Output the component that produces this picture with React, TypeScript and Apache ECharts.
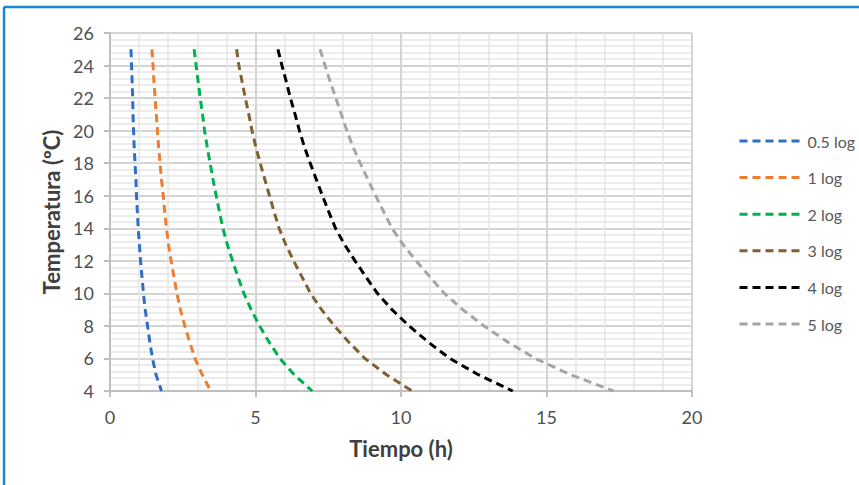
import React, { useEffect, useRef } from "react";
import * as echarts from "echarts";

// Temperature (ºC) at which each series is sampled, from 25 down to 4
const temperatures = [25, 24, 23, 22, 21, 20, 19, 18, 17, 16, 15, 14, 13, 12, 11, 10, 9, 8, 7, 6, 5, 4];

// Time (h) for each log reduction
const log05 = [0.72, 0.74, 0.76, 0.78, 0.79, 0.81, 0.83, 0.86, 0.89, 0.91, 0.94, 0.97, 1.01, 1.05, 1.1, 1.15, 1.21, 1.29, 1.37, 1.46, 1.58, 1.77];
const log1 = [1.44, 1.48, 1.51, 1.55, 1.59, 1.63, 1.67, 1.72, 1.77, 1.83, 1.88, 1.94, 2.01, 2.1, 2.2, 2.3, 2.42, 2.57, 2.74, 2.92, 3.17, 3.46];
const log2 = [2.89, 2.96, 3.03, 3.1, 3.18, 3.25, 3.34, 3.44, 3.54, 3.65, 3.76, 3.88, 4.03, 4.21, 4.4, 4.6, 4.85, 5.14, 5.47, 5.84, 6.33, 6.95];
const log3 = [4.35, 4.43, 4.54, 4.65, 4.77, 4.88, 5.01, 5.16, 5.32, 5.48, 5.64, 5.81, 6.04, 6.31, 6.6, 6.89, 7.27, 7.71, 8.21, 8.76, 9.5, 10.38];
const log4 = [5.77, 5.91, 6.06, 6.2, 6.36, 6.51, 6.68, 6.88, 7.09, 7.3, 7.52, 7.75, 8.06, 8.42, 8.8, 9.19, 9.69, 10.28, 10.94, 11.68, 12.66, 13.84];
const log5 = [7.22, 7.39, 7.57, 7.76, 7.95, 8.14, 8.35, 8.6, 8.86, 9.13, 9.41, 9.69, 10.07, 10.52, 11.0, 11.49, 12.12, 12.85, 13.68, 14.61, 15.83, 17.3];

const seriesNames = ["0.5 log", "1 log", "2 log", "3 log", "4 log", "5 log"];
const seriesValues = [log05, log1, log2, log3, log4, log5];
const seriesColors = ["#2E6FC4", "#ED7D31", "#00B050", "#7F6030", "#000000", "#A5A5A5"];

const FONT = "Lato, 'Open Sans', sans-serif";

export default function App() {
  const ref = useRef<HTMLDivElement>(null);

  useEffect(() => {
    document.body.style.margin = "0";
    const chart = echarts.init(ref.current!, null, { renderer: "svg" });
    const option: any = {
      animation: false,
      backgroundColor: "#ffffff",
      textStyle: { fontFamily: FONT },
      grid: { left: 110, top: 33, width: 582, height: 358, containLabel: false },
      legend: {
        orient: "vertical",
        left: 738,
        top: 133,
        padding: 0,
        itemWidth: 61,
        itemHeight: 14,
        itemGap: 20.6,
        data: seriesNames,
        itemStyle: { opacity: 0 },
        lineStyle: { width: 3 },
        textStyle: { fontFamily: FONT, fontSize: 16, color: "#595959", lineHeight: 16, padding: [0, 0, 0, 2] },
      },
      xAxis: {
        type: "value",
        min: 0,
        max: 20,
        interval: 5,
        name: "Tiempo (h)",
        nameLocation: "middle",
        nameGap: 46,
        nameTextStyle: { fontFamily: FONT, fontSize: 22, fontWeight: "bold", color: "#404040" },
        axisLine: { show: true, lineStyle: { color: "#BFBFBF", width: 2 } },
        axisTick: { show: true, length: 6, lineStyle: { color: "#BFBFBF", width: 2 } },
        axisLabel: { fontFamily: FONT, fontSize: 18, color: "#505050", margin: 17 },
        splitLine: { show: true, lineStyle: { color: "#D4D4D4", width: 2 } },
        minorTick: { show: false, splitNumber: 5 },
        minorSplitLine: { show: true, lineStyle: { color: "#E6E6E6", width: 1.5 } },
      },
      yAxis: {
        type: "value",
        min: 4,
        max: 26,
        interval: 2,
        name: "Temperatura (ºC)",
        nameLocation: "middle",
        nameGap: 48,
        nameTextStyle: { fontFamily: FONT, fontSize: 22, fontWeight: "bold", color: "#404040" },
        axisLine: { show: true, lineStyle: { color: "#BFBFBF", width: 2 } },
        axisTick: { show: true, length: 6, lineStyle: { color: "#BFBFBF", width: 2 } },
        axisLabel: { fontFamily: FONT, fontSize: 18, color: "#505050", margin: 16 },
        splitLine: { show: true, lineStyle: { color: "#D4D4D4", width: 2 } },
        minorTick: { show: false, splitNumber: 5 },
        minorSplitLine: { show: true, lineStyle: { color: "#E6E6E6", width: 1.5 } },
      },
      series: seriesNames.map((name, i) => ({
        name,
        type: "line",
        showSymbol: false,
        symbol: "none",
        smooth: false,
        color: seriesColors[i],
        lineStyle: { color: seriesColors[i], width: 3, type: [8, 5] },
        data: seriesValues[i].map((t, j) => [t, temperatures[j]]),
      })),
      graphic: [
        { type: "line", shape: { x1: 4, y1: 7, x2: 859, y2: 7 }, style: { stroke: "#1A88D0", lineWidth: 2.5 }, z: 100 },
        { type: "line", shape: { x1: 4, y1: 7, x2: 4, y2: 485 }, style: { stroke: "#1A88D0", lineWidth: 2.5 }, z: 100 },
      ],
    };
    chart.setOption(option);
    return () => chart.dispose();
  }, []);

  return <div ref={ref} style={{ position: "absolute", left: 0, top: 0, width: 859, height: 485 }} />;
}
